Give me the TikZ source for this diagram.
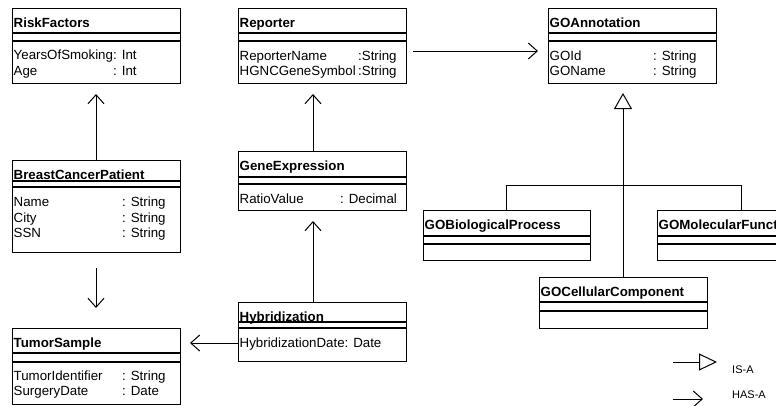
\documentclass[tikz,border=0pt]{standalone}
\usepackage{fontspec}
\setmainfont{Liberation Sans}
\usetikzlibrary{arrows.meta}
\tikzset{
  classbox/.style={draw, line width=1pt, anchor=north west, inner sep=0pt, outer sep=0pt},
  sepline/.style={line width=1.1pt},
  titletext/.style={anchor=base west, inner sep=0pt, font=\fontsize{13.3}{16}\selectfont\bfseries},
  attrtext/.style={anchor=base west, inner sep=0pt, font=\fontsize{13.3}{16}\selectfont},
  legendtext/.style={anchor=base west, inner sep=0pt, font=\fontsize{11}{13}\selectfont},
  hasa/.style={line width=1pt, -{Straight Barb[length=9pt,width=16pt]}},
  isa/.style={line width=1pt, -{Triangle[open,length=16pt,width=18pt]}},
  link/.style={line width=1pt},
}
% class box: name, left, top, width, height, first rule, second rule, title
\newcommand\umlclass[8]{%
  \node[classbox, minimum width=#4pt, minimum height=#5pt] (#1) at (#2,#3) {};
  \draw[sepline] (#2,#6) -- ++(#4,0);
  \draw[sepline] (#2,#7) -- ++(#4,0);
  \node[titletext] (#1-title) at (#2+1.5,#3+19) {#8};
}
\begin{document}
\begin{tikzpicture}[x=1pt,y=-1pt]
\useasboundingbox (0,0) rectangle (776,405);
\clip (0,0) rectangle (776,405);

% classes
\umlclass{rf}{12}{8}{168}{75}{33}{41}{RiskFactors}
\umlclass{rep}{238}{8}{168}{75}{33}{41}{Reporter}
\umlclass{goa}{548}{8}{168}{75}{33}{41}{GOAnnotation}
\umlclass{bcp}{12}{160}{168}{92}{181}{187}{BreastCancerPatient}
\umlclass{ge}{238}{151}{168}{59}{177}{184}{GeneExpression}
\umlclass{hyb}{238}{302}{168}{59}{322}{328}{Hybridization}
\umlclass{ts}{12}{328}{168}{76}{353}{362}{TumorSample}
\umlclass{gobp}{423}{210}{167}{50}{236}{244}{GOBiologicalProcess}
\umlclass{gomf}{657}{210}{168}{50}{236}{244}{GOMolecularFunction}
\umlclass{gocc}{539}{277}{168}{51}{302}{311}{GOCellularComponent}

% attributes
\node[attrtext] (rf-a1) at (13.5,59) {YearsOfSmoking};
\node[attrtext] (rf-t1) at (113,59) {: Int};
\node[attrtext] (rf-a2) at (13.5,75) {Age};
\node[attrtext] (rf-t2) at (113,75) {: Int};

\node[attrtext] (rep-a1) at (239.5,60) {ReporterName};
\node[attrtext] (rep-t1) at (358,60) {:String};
\node[attrtext] (rep-a2) at (239.5,75) {HGNCGeneSymbol};
\node[attrtext] (rep-t2) at (358,75) {:String};

\node[attrtext] (goa-a1) at (549.5,60) {GOId};
\node[attrtext] (goa-t1) at (653,60) {: String};
\node[attrtext] (goa-a2) at (549.5,75) {GOName};
\node[attrtext] (goa-t2) at (653,75) {: String};

\node[attrtext] (bcp-a1) at (13.5,206) {Name};
\node[attrtext] (bcp-t1) at (122,206) {: String};
\node[attrtext] (bcp-a2) at (13.5,222) {City};
\node[attrtext] (bcp-t2) at (122,222) {: String};
\node[attrtext] (bcp-a3) at (13.5,237) {SSN};
\node[attrtext] (bcp-t3) at (122,237) {: String};

\node[attrtext] (ge-a1) at (239.5,203) {RatioValue};
\node[attrtext] (ge-t1) at (340,203) {: Decimal};

\node[attrtext] (hyb-a1) at (239.5,347) {HybridizationDate: Date};

\node[attrtext] (ts-a1) at (13.5,380) {TumorIdentifier};
\node[attrtext] (ts-t1) at (122,380) {: String};
\node[attrtext] (ts-a2) at (13.5,395) {SurgeryDate};
\node[attrtext] (ts-t2) at (122,395) {: Date};

% has-a associations
\draw[hasa] (bcp.north) -- ([yshift=-11pt]rf.south);
\draw[hasa] ([yshift=-16pt]bcp.south) -- ([yshift=20pt]ts.north);
\draw[hasa] ([xshift=-9pt]ge.north) -- ([xshift=-9pt,yshift=-11pt]rep.south);
\draw[hasa] ([xshift=-9pt]hyb.north) -- ([xshift=-9pt,yshift=-11pt]ge.south);
\draw[hasa, shorten <=7pt] ([yshift=-5.5pt]rep.east) -- ([xshift=-10pt,yshift=-5.5pt]goa.west);
\coordinate (hybrow) at ([yshift=-11.5pt]hyb.west);
\draw[hasa, shorten >=10pt] (hybrow) -- (ts.east |- hybrow);

% is-a hierarchy
\draw[isa, shorten >=10pt] (gocc.north) -- (gocc.north |- goa.south);
\draw[link] (gobp.north) -- ++(0,-25) -| (gomf.north);

% legend
\coordinate (isaA) at (673,362);
\coordinate (isaB) at (717,362);
\draw[line width=1pt, -{Triangle[open,length=18pt,width=17pt]}] (isaA) -- (isaB);
\node[legendtext] (isalbl) at (732,373) {IS-A};
\coordinate (hasaA) at (673,399);
\coordinate (hasaB) at (703,399);
\draw[hasa] (hasaA) -- (hasaB);
\node[legendtext] (hasalbl) at (732,398) {HAS-A};
\end{tikzpicture}
\end{document}
